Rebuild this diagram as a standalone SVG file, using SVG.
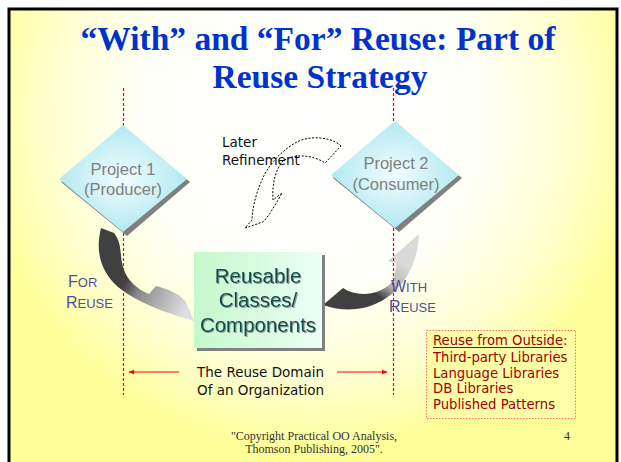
<svg xmlns="http://www.w3.org/2000/svg" width="621" height="462" viewBox="0 0 621 462">
  <defs>
    <radialGradient id="bg" gradientUnits="userSpaceOnUse" cx="310" cy="120" r="335">
      <stop offset="0" stop-color="#ffffff"/>
      <stop offset="0.5" stop-color="#fffffa"/>
      <stop offset="0.78" stop-color="#ffffd0"/>
      <stop offset="1" stop-color="#ffff99"/>
    </radialGradient>
    <radialGradient id="dia" cx="0.5" cy="0.5" r="0.6">
      <stop offset="0" stop-color="#f2fdff"/>
      <stop offset="1" stop-color="#a6e5ee"/>
    </radialGradient>
    <linearGradient id="green" x1="0" y1="0" x2="1" y2="0">
      <stop offset="0" stop-color="#c6f8cb"/>
      <stop offset="1" stop-color="#ebfff6"/>
    </linearGradient>
    <linearGradient id="leftArrow" gradientUnits="userSpaceOnUse" x1="125" y1="282" x2="185" y2="312">
      <stop offset="0" stop-color="#404040"/>
      <stop offset="0.25" stop-color="#8a8a8a"/>
      <stop offset="1" stop-color="#dedede"/>
    </linearGradient>
    <linearGradient id="rightArrow" gradientUnits="userSpaceOnUse" x1="378" y1="296" x2="402" y2="262">
      <stop offset="0" stop-color="#404040"/>
      <stop offset="0.35" stop-color="#b0b0b0"/>
      <stop offset="1" stop-color="#dadada"/>
    </linearGradient>
    <marker id="redHead" viewBox="0 0 10 10" refX="9" refY="5" markerWidth="6" markerHeight="6" orient="auto">
      <path d="M0,1 L10,5 L0,9 z" fill="#ff0000"/>
    </marker>
    <filter id="tshadow" x="-10%" y="-10%" width="120%" height="130%">
      <feDropShadow dx="1" dy="1" stdDeviation="0.4" flood-color="#8a9a9a"/>
    </filter>
    <style>
      .title { font-family: "Liberation Serif", "Times New Roman", serif; font-weight: bold; font-size: 33.5px; fill: #0033cc; text-anchor: middle; }
      .proj { font-family: "Liberation Sans", Arial, sans-serif; font-size: 16.5px; fill: #7f7f7f; text-anchor: middle; }
      .box { font-family: "Liberation Sans", Arial, sans-serif; font-size: 20.5px; fill: #0a4d4a; text-anchor: middle; }
      .caps { font-family: "Liberation Sans", Arial, sans-serif; fill: #4f4f9c; }
      .comic { font-family: "Comic Sans MS", "DejaVu Sans", sans-serif; font-size: 13.5px; fill: #111111; }
      .outside { font-family: "Comic Sans MS", "DejaVu Sans", sans-serif; font-size: 13.2px; fill: #a00000; }
      .foot { font-family: "Liberation Serif", "Times New Roman", serif; font-size: 12px; fill: #333333; }
      .shadow { fill: #808080; }
    </style>
  </defs>

  <!-- background and frame -->
  <rect x="0" y="0" width="621" height="462" fill="#ffffff"/>
  <rect x="9" y="9" width="608" height="470" fill="url(#bg)" stroke="#000000" stroke-width="3"/>

  <!-- title -->
  <g id="title">
    <text class="title" x="318" y="50">“With” and “For” Reuse: Part of</text>
    <text class="title" x="320" y="88">Reuse Strategy</text>
  </g>

  <!-- connectors -->
  <g id="connectors">
    <path id="for-reuse-arrow" fill="url(#leftArrow)"
      d="M101,228 C95,252 101,272 118,287 C138,303 166,313 194,321 L186,302 C180,294 168,289 156,286 L149,294 C137,289 128,281 124,270 C119,257 123,244 114,233 Z"/>
    <path id="with-reuse-arrow" fill="url(#rightArrow)"
      d="M323,305 L343,288 C358,298 380,295 392,282 C395,276 396,269 396,263 L388,261 L427,227 L419,234 C418,255 411,275 396,290 C381,305 355,316 323,305 Z"/>
    <path id="refinement-arrow" fill="none" stroke="#000000" stroke-width="1" stroke-dasharray="2 1.6"
      d="M341,146 C332,137 310,135 297,142 C282,150 268,165 262,180 C255,195 252,212 252,220 L245,228 L263,222 C270,215 278,200 282,193 L273,200 C272,185 275,170 283,161 C292,154 312,154 325,163 Z"/>
    <path d="M123.5,88 V395" fill="none" stroke="#ff0000" stroke-width="1.2" stroke-dasharray="3 2"/>
    <path d="M393.5,88 V395" fill="none" stroke="#ff0000" stroke-width="1.2" stroke-dasharray="3 2"/>
    <line x1="179" y1="372" x2="129" y2="372" stroke="#ff0000" stroke-width="1" marker-end="url(#redHead)"/>
    <line x1="337" y1="372" x2="387" y2="372" stroke="#ff0000" stroke-width="1" marker-end="url(#redHead)"/>
  </g>

  <!-- Project 1 -->
  <g id="project1">
    <polygon class="shadow" points="124,128 190,182 127,236 61,182"/>
    <polygon points="123,125 187,179 123,232 59,179" fill="url(#dia)"/>
    <text class="proj" x="123" y="175">Project 1</text>
    <text class="proj" x="123" y="195">(Producer)</text>
  </g>

  <!-- Project 2 -->
  <g id="project2">
    <polygon class="shadow" points="396,124 462,178 399,232 333,178"/>
    <polygon points="395,121 459,175 395,228 331,175" fill="url(#dia)"/>
    <text class="proj" x="396" y="169">Project 2</text>
    <text class="proj" x="396" y="190">(Consumer)</text>
  </g>

  <!-- Reusable Classes / Components -->
  <g id="reusable">
    <rect class="shadow" x="197" y="255" width="128" height="96"/>
    <rect x="194" y="252" width="128" height="96" fill="url(#green)"/>
    <g filter="url(#tshadow)">
      <text class="box" x="258" y="283">Reusable</text>
      <text class="box" x="258" y="307">Classes/</text>
      <text class="box" x="258" y="332">Components</text>
    </g>
  </g>

  <!-- labels -->
  <g id="for-reuse-label">
    <text class="caps" x="68" y="287"><tspan font-size="16">F</tspan><tspan font-size="13">OR</tspan></text>
    <text class="caps" x="66" y="308"><tspan font-size="16">R</tspan><tspan font-size="13">EUSE</tspan></text>
  </g>
  <g id="with-reuse-label">
    <text class="caps" x="391" y="292"><tspan font-size="16">W</tspan><tspan font-size="13">ITH</tspan></text>
    <text class="caps" x="389" y="312"><tspan font-size="16">R</tspan><tspan font-size="13">EUSE</tspan></text>
  </g>
  <g id="refinement-label">
    <text class="comic" x="222" y="147">Later</text>
    <text class="comic" x="222" y="165">Refinement</text>
  </g>
  <g id="domain-label">
    <text class="comic" x="197" y="377">The Reuse Domain</text>
    <text class="comic" x="197" y="395">Of an Organization</text>
  </g>

  <!-- Reuse from outside -->
  <g id="outside">
    <rect x="426.5" y="330.5" width="149" height="88" fill="#ffffa8" stroke="#ff7070" stroke-width="1" stroke-dasharray="1.5 1.5"/>
    <text class="outside" x="433" y="345">Reuse from Outside:</text>
    <line x1="433" y1="347.5" x2="563" y2="347.5" stroke="#a00000" stroke-width="1"/>
    <text class="outside" x="433" y="362">Third-party Libraries</text>
    <text class="outside" x="433" y="378">Language Libraries</text>
    <text class="outside" x="433" y="393">DB Libraries</text>
    <text class="outside" x="433" y="409">Published Patterns</text>
  </g>

  <!-- footer -->
  <g id="footer">
    <text class="foot" x="314" y="440" text-anchor="middle">"Copyright Practical OO Analysis,</text>
    <text class="foot" x="314" y="453" text-anchor="middle">Thomson Publishing, 2005".</text>
    <text class="foot" x="564" y="440">4</text>
  </g>
</svg>
